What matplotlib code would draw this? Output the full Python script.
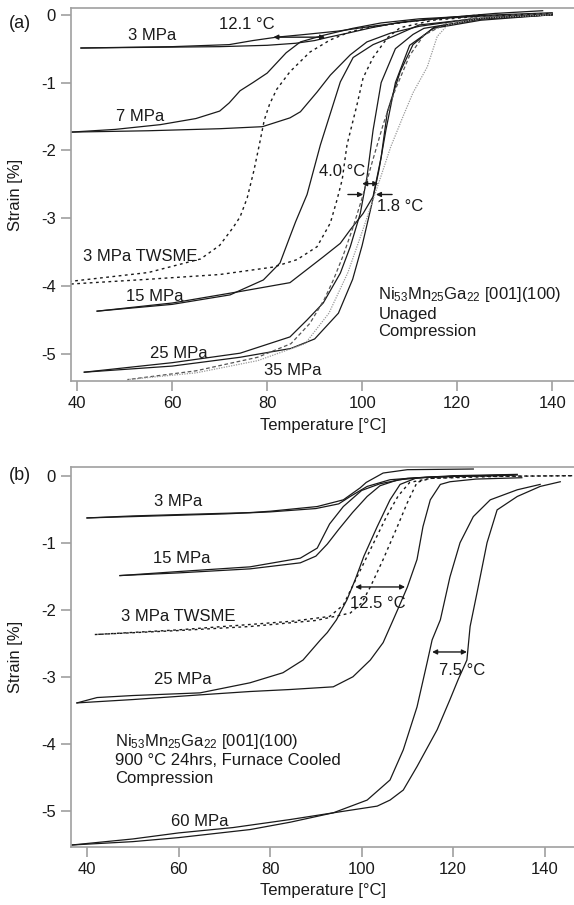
import matplotlib
matplotlib.use("Agg")
import matplotlib.pyplot as plt

plt.rcParams['font.family'] = ['Liberation Sans', 'DejaVu Sans']
plt.rcParams['mathtext.default'] = 'regular'
plt.rcParams['axes.unicode_minus'] = False

# ---------------- (a) unaged ----------------
# each loop: cooling branch (c) and heating branch (h), T in degC, strain in %
a3_cT = [138, 128, 118, 110, 102, 95, 88, 82, 77, 72, 60, 50, 40.8]
a3_cS = [0.06, 0.02, -0.04, -0.10, -0.17, -0.24, -0.29, -0.33, -0.38, -0.44, -0.47, -0.48, -0.49]
a3_hT = [40.8, 55, 70, 80, 86, 90, 93, 97, 102, 108, 115, 125, 136]
a3_hS = [-0.49, -0.48, -0.47, -0.45, -0.42, -0.38, -0.33, -0.27, -0.19, -0.11, -0.06, -0.02, 0.0]

a7_cT = [140, 125, 112, 104, 98, 92, 87, 84, 80, 77, 74.3, 72, 70, 65, 57.5, 48, 38.7]
a7_cS = [0.03, -0.01, -0.06, -0.12, -0.2, -0.3, -0.40, -0.56, -0.86, -1.0, -1.12, -1.3, -1.42, -1.53, -1.62, -1.69, -1.73]
a7_hT = [38.7, 55, 70, 79, 84.8, 87, 90.5, 93.3, 97.5, 101, 106, 112, 120, 130, 140]
a7_hS = [-1.73, -1.71, -1.68, -1.65, -1.52, -1.43, -1.14, -0.89, -0.59, -0.40, -0.27, -0.17, -0.09, -0.03, 0.0]

atw_cT = [125, 110, 102, 97.5, 93.3, 89, 84.8, 82, 80.5, 79.4, 78.4, 77.2, 75.8, 74.3, 72.8, 70, 66, 55, 45, 38.7]
atw_cS = [0.0, -0.1, -0.18, -0.25, -0.37, -0.55, -0.84, -1.1, -1.32, -1.55, -1.9, -2.3, -2.7, -2.98, -3.14, -3.40, -3.60, -3.80, -3.88, -3.93]
atw_hT = [38.7, 55, 70, 81.3, 86.3, 90.5, 93.3, 94.7, 95.8, 96.8, 98.9, 100.2, 102.3, 105.3, 108, 115, 125, 140]
atw_hS = [-3.97, -3.9, -3.83, -3.72, -3.61, -3.42, -3.07, -2.73, -2.43, -1.92, -1.33, -0.93, -0.63, -0.34, -0.19, -0.08, -0.02, 0.02]

a15_cT = [140, 125, 112, 106.5, 102.3, 98.1, 95.4, 91.2, 88.4, 86, 84.8, 82.7, 79.2, 72.2, 60, 44.2]
a15_cS = [0.02, -0.05, -0.15, -0.32, -0.44, -0.63, -0.99, -1.92, -2.65, -3.05, -3.27, -3.66, -3.91, -4.13, -4.27, -4.37]
a15_hT = [44.2, 60, 74.3, 84.8, 91.8, 95.4, 97.5, 100.2, 102.3, 104, 105.3, 108, 110.7, 115, 125, 140]
a15_hS = [-4.37, -4.25, -4.08, -3.95, -3.57, -3.37, -3.17, -2.93, -2.68, -2.1, -1.43, -0.84, -0.44, -0.19, -0.06, 0.0]

a25_cT = [140, 125, 113, 110.7, 107, 104, 102.3, 101, 99.6, 97.5, 95.4, 91.8, 88.4, 84.8, 74.3, 60, 41.5]
a25_cS = [0.0, -0.06, -0.2, -0.29, -0.5, -1.0, -1.7, -2.4, -2.93, -3.42, -3.81, -4.25, -4.5, -4.75, -4.99, -5.13, -5.27]
a25_hT = [41.5, 60, 74.3, 85, 90, 95, 98, 100, 102, 103.5, 105, 107, 110, 115, 125, 140]
a25_hS = [-5.27, -5.18, -5.05, -4.92, -4.78, -4.4, -3.9, -3.4, -2.8, -2.3, -1.7, -1.0, -0.45, -0.2, -0.08, 0.0]

a35_cT = [140, 125, 118, 113, 110, 107, 104.5, 102, 100, 98, 96, 94, 92, 89, 85, 78, 65, 50.5]
a35_cS = [0.02, -0.03, -0.12, -0.30, -0.6, -1.1, -1.6, -2.2, -2.7, -3.15, -3.55, -3.9, -4.2, -4.55, -4.85, -5.05, -5.25, -5.38]
a35_hT = [50.5, 65, 78, 88, 93, 97, 100, 103.2, 106, 108.6, 110.7, 113.7, 115.8, 118, 125, 140]
a35_hS = [-5.38, -5.28, -5.1, -4.85, -4.4, -3.8, -3.2, -2.54, -1.95, -1.5, -1.15, -0.77, -0.32, -0.15, -0.05, 0.0]

# ---------------- (b) aged 900 C 24 h ----------------
b3_cT = [124.4, 110, 104.7, 101, 99.7, 96, 90.3, 80, 75.6, 60, 50, 40]
b3_cS = [0.10, 0.09, 0.04, -0.1, -0.18, -0.36, -0.46, -0.53, -0.55, -0.58, -0.6, -0.63]
b3_hT = [40, 55, 70, 80, 90, 95, 97.5, 101.2, 106.2, 112, 120, 130]
b3_hS = [-0.63, -0.6, -0.57, -0.54, -0.49, -0.42, -0.31, -0.16, -0.06, -0.03, -0.01, 0.0]

b15_cT = [134, 120, 110, 104, 100, 96, 93, 90.3, 86.6, 75.6, 60, 47.2]
b15_cS = [0.02, 0.0, -0.04, -0.12, -0.22, -0.46, -0.72, -1.08, -1.23, -1.36, -1.43, -1.49]
b15_hT = [47.2, 60, 75.6, 86.6, 90, 92.5, 95, 98, 101.2, 104, 108, 115, 125, 134]
b15_hS = [-1.49, -1.45, -1.39, -1.3, -1.2, -1.02, -0.8, -0.55, -0.31, -0.15, -0.06, -0.02, 0.0, 0.01]

btw_cT = [146, 130, 115, 110.5, 108, 105.5, 103, 100.5, 98, 96, 93, 85, 75.6, 60, 41.7]
btw_cS = [0.0, -0.01, -0.04, -0.1, -0.3, -0.6, -0.95, -1.3, -1.65, -1.93, -2.1, -2.17, -2.22, -2.3, -2.37]
btw_hT = [41.7, 60, 75.6, 90, 97.5, 100, 101.9, 104.7, 107.8, 110, 112.1, 115, 125, 146]
btw_hS = [-2.37, -2.31, -2.25, -2.16, -2.05, -1.9, -1.66, -1.25, -0.76, -0.4, -0.1, -0.04, -0.01, 0.0]

b25_cT = [133, 120, 112.1, 108.4, 106.2, 103.4, 100.5, 98.6, 96.8, 94.5, 92.5, 91, 87.2, 82.8, 75.6, 64.7, 50, 42.2, 37.8]
b25_cS = [0.01, -0.01, -0.03, -0.13, -0.36, -0.76, -1.2, -1.55, -1.85, -2.15, -2.34, -2.45, -2.75, -2.94, -3.09, -3.24, -3.28, -3.31, -3.39]
b25_hT = [37.8, 50, 64.7, 75.6, 84.4, 93.8, 98.1, 101.9, 104.7, 106.9, 108.5, 110, 112.1, 113.4, 115, 117.2, 119.3, 125, 135]
b25_hS = [-3.39, -3.34, -3.27, -3.22, -3.19, -3.15, -3.0, -2.75, -2.49, -2.15, -1.9, -1.66, -1.25, -0.76, -0.36, -0.13, -0.09, -0.05, -0.03]

b60_cT = [139, 134, 128.1, 124.4, 121.5, 119.3, 117.2, 115.4, 114.3, 112.1, 109.1, 106.2, 101.2, 93.8, 84.4, 75.6, 60, 50, 36.7]
b60_cS = [-0.13, -0.21, -0.36, -0.61, -1.0, -1.51, -2.15, -2.45, -2.79, -3.45, -4.09, -4.54, -4.84, -5.03, -5.17, -5.28, -5.4, -5.46, -5.51]
b60_hT = [36.7, 50, 60, 71.9, 84.4, 93.8, 103.4, 106.2, 109.1, 112.1, 116.5, 119.3, 121.1, 123, 123.7, 125.2, 127.4, 129.6, 134, 139, 143.4]
b60_hS = [-5.51, -5.42, -5.33, -5.25, -5.13, -5.03, -4.93, -4.84, -4.69, -4.34, -3.79, -3.34, -3.04, -2.75, -2.25, -1.75, -1.0, -0.51, -0.31, -0.16, -0.09]

x_ticks = [40, 60, 80, 100, 120, 140]
y_ticks = [0, -1, -2, -3, -4, -5]

FS = 12
INK = '#1a1a1a'
SPINE = '#a0a0a0'

fig = plt.figure(figsize=(5.74, 9.05), dpi=100)
ax1 = fig.add_axes([71/574, 1-381/905, 1-71/574, 373/905])
ax2 = fig.add_axes([71/574, 1-847/905, 1-71/574, 380/905])


def loop(ax, cT, cS, hT, hS, **kw):
    ax.plot(cT, cS, **kw)
    ax.plot(hT, hS, **kw)


solid = dict(color=INK, lw=0.9)
dot = dict(color=INK, lw=1.0, ls=(0, (2, 2.5)))

loop(ax1, a3_cT, a3_cS, a3_hT, a3_hS, **solid)
loop(ax1, a7_cT, a7_cS, a7_hT, a7_hS, **solid)
loop(ax1, atw_cT, atw_cS, atw_hT, atw_hS, **dot)
loop(ax1, a15_cT, a15_cS, a15_hT, a15_hS, **solid)
loop(ax1, a25_cT, a25_cS, a25_hT, a25_hS, **solid)
ax1.plot(a35_cT, a35_cS, color='#555555', lw=0.9, ls=(0, (3, 2)))
ax1.plot(a35_hT, a35_hS, color='#999999', lw=0.9, ls=(0, (1, 1)))

loop(ax2, b3_cT, b3_cS, b3_hT, b3_hS, **solid)
loop(ax2, b15_cT, b15_cS, b15_hT, b15_hS, **solid)
loop(ax2, btw_cT, btw_cS, btw_hT, btw_hS, **dot)
loop(ax2, b25_cT, b25_cS, b25_hT, b25_hS, **solid)
loop(ax2, b60_cT, b60_cS, b60_hT, b60_hS, **solid)

ax1.set_xlim(38.7, 144.6)
ax1.set_ylim(-5.4, 0.1)
ax2.set_xlim(36.5, 146.4)
ax2.set_ylim(-5.54, 0.13)

for ax in (ax1, ax2):
    ax.set_xticks(x_ticks)
    ax.set_yticks(y_ticks)
    ax.set_yticklabels([str(v) for v in y_ticks])
    ax.spines['right'].set_visible(False)
    for s in ('left', 'bottom', 'top'):
        ax.spines[s].set_color(SPINE)
        ax.spines[s].set_linewidth(1.2)
    ax.tick_params(direction='out', length=7, width=1.2, color=SPINE,
                   labelsize=FS, labelcolor=INK, pad=4)
    ax.set_xlabel('Temperature [°C]', fontsize=FS, color=INK)
    ax.set_ylabel('Strain [%]', fontsize=FS, color=INK)
    ax.yaxis.set_label_coords(-0.095, 0.5)

ax1.xaxis.set_label_coords(0.5, -0.1)
ax2.xaxis.set_label_coords(0.5, -0.095)

fig.text(20/574, 1-23/905, '(a)', fontsize=FS + 1, color=INK, ha='center', va='center')
fig.text(20/574, 1-475/905, '(b)', fontsize=FS + 1, color=INK, ha='center', va='center')

tk = dict(fontsize=FS, color=INK, ha='center', va='center')
ax1.text(55.8, -0.30, '3 MPa', **tk)
ax1.text(53.3, -1.50, '7 MPa', **tk)
ax1.text(53.3, -3.57, '3 MPa TWSME', **tk)
ax1.text(56.4, -4.16, '15 MPa', **tk)
ax1.text(61.3, -4.99, '25 MPa', **tk)
ax1.text(85.3, -5.25, '35 MPa', **tk)
ax1.text(75.8, -0.15, '12.1 °C', **tk)
ax1.text(95.8, -2.31, '4.0 °C', **tk)
ax1.text(108.0, -2.82, '1.8 °C', **tk)
ax1.text(103.4, -3.99, 'Ni$_{53}$Mn$_{25}$Ga$_{22}$ [001](100)\nUnaged\nCompression',
         fontsize=FS, color=INK, ha='left', va='top', linespacing=1.2)

arr2 = dict(arrowstyle='<|-|>', color=INK, lw=1.0, mutation_scale=7, shrinkA=0, shrinkB=0)
arr1 = dict(arrowstyle='-|>', color=INK, lw=1.0, mutation_scale=7, shrinkA=0, shrinkB=0)
ax1.annotate('', xy=(81.3, -0.33), xytext=(92.2, -0.33), arrowprops=arr2)
ax1.annotate('', xy=(100.0, -2.49), xytext=(103.4, -2.49), arrowprops=arr2)
ax1.annotate('', xy=(100.2, -2.65), xytext=(97.0, -2.65), arrowprops=arr1)
ax1.annotate('', xy=(102.9, -2.65), xytext=(106.3, -2.65), arrowprops=arr1)

ax2.text(59.9, -0.39, '3 MPa', **tk)
ax2.text(60.8, -1.24, '15 MPa', **tk)
ax2.text(59.9, -2.10, '3 MPa TWSME', **tk)
ax2.text(61.0, -3.04, '25 MPa', **tk)
ax2.text(64.7, -5.16, '60 MPa', **tk)
ax2.text(103.6, -1.90, '12.5 °C', **tk)
ax2.text(122.0, -2.90, '7.5 °C', **tk)
ax2.text(46.1, -3.82, 'Ni$_{53}$Mn$_{25}$Ga$_{22}$ [001](100)\n900 °C 24hrs, Furnace Cooled\nCompression',
         fontsize=FS, color=INK, ha='left', va='top', linespacing=1.2)
ax2.annotate('', xy=(98.6, -1.66), xytext=(109.5, -1.66), arrowprops=arr2)
ax2.annotate('', xy=(115.4, -2.63), xytext=(123.0, -2.63), arrowprops=arr2)

fig.savefig('out.png', dpi=100)
